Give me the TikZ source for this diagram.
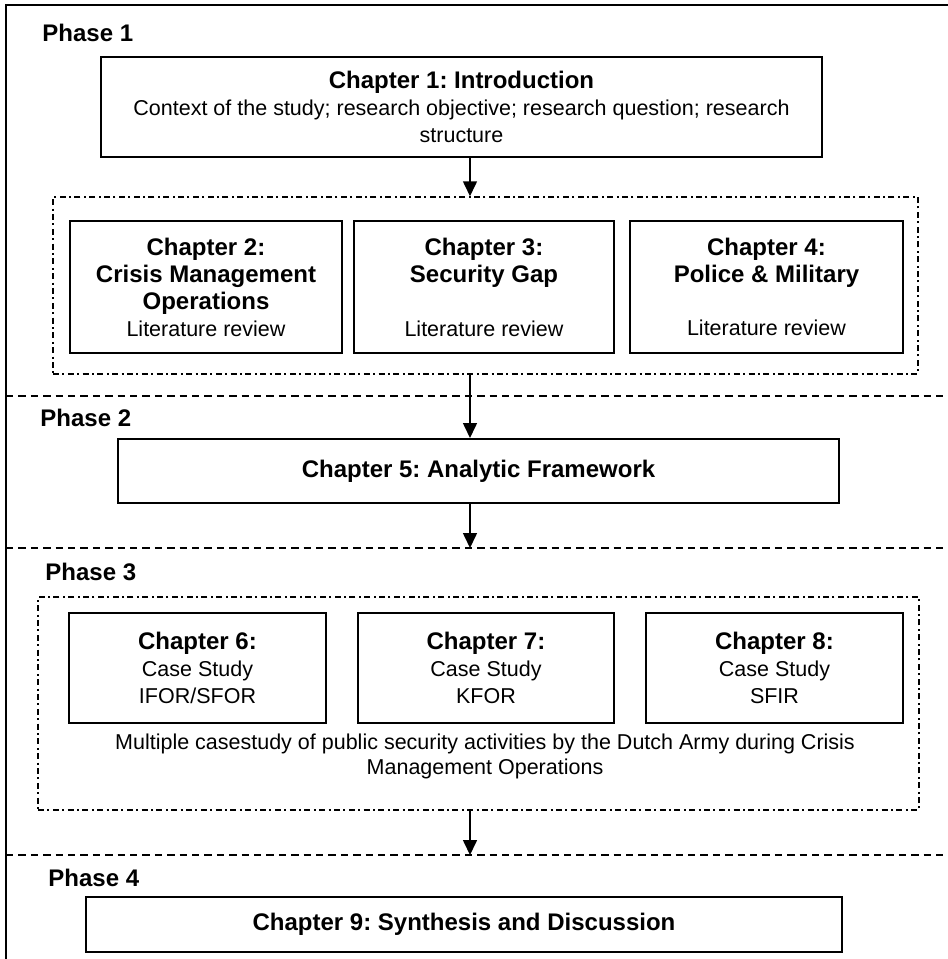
\documentclass[tikz,border=0pt]{standalone}
\usepackage{fontspec}
\setmainfont{Liberation Sans}
\usepackage{tikz}
\usetikzlibrary{arrows.meta}
\frenchspacing
\def\axis{470}
\newcommand{\chtitle}[1]{{\bfseries\fontsize{12}{13.5}\selectfont #1}}

\begin{document}
\begin{tikzpicture}[x=0.5pt,y=-0.5pt,>={Triangle[length=7.5pt,width=7pt]}]
		\tikzstyle{chapter}=[draw,line width=1pt,align=center,inner sep=0pt,font=\fontsize{10.75}{13.5}\selectfont]
		\tikzstyle{group}=[draw,line width=0.75pt,dash pattern=on 3pt off 1.7pt on 1pt off 1.7pt,inner sep=0pt]
		\tikzstyle{phase}=[anchor=west,inner sep=0pt,font=\bfseries\fontsize{12}{14}\selectfont]
		\tikzstyle{separator}=[line width=0.8pt,dash pattern=on 3.7pt off 2.5pt]
		\tikzstyle{flow}=[->,line width=0.8pt]
		\tikzstyle{note}=[align=center,inner sep=0pt,font=\fontsize{10.75}{12.5}\selectfont]
		
		\useasboundingbox (0,0) rectangle (948,959);
		
		% Draw the outer frame
		\draw[line width=1pt] (948,5) -- (6,5) -- (6,959);
		
		% Draw the phase separators
		\foreach \n/\y in {1/396,2/548,3/855}{
			\coordinate (S-\n-l) at (6,\y);
			\coordinate (S-\n-r) at (948,\y);
			\draw[separator] (S-\n-l) -- (S-\n-r);
		}
		
		% Draw the phase labels
		\foreach \n/\x/\y in {1/42/33,2/40/418,3/45/572,4/48/878}
		\node[phase] (P-\n) at (\x,\y) {Phase \n};
		
		% Draw the dash-dotted groups
		\node[group,minimum width=432.5pt,minimum height=88.5pt] (Grp-1) at (485.5,285.5) {};
		\node[group,minimum width=440.5pt,minimum height=106.5pt] (Grp-2) at (478.5,703.5) {};
		
		% Phase 1
		\node[chapter,minimum width=360.5pt,minimum height=50pt] (Ch-1) at (461.5,107)
			{\chtitle{Chapter 1: Introduction}\\Context of the study; research objective; research question; research\\structure};
		\node[chapter,minimum width=136pt,minimum height=66pt] (Ch-2) at (206,287)
			{\chtitle{Chapter 2:}\\\chtitle{Crisis Management}\\\chtitle{Operations}\\Literature review};
		\node[chapter,minimum width=130pt,minimum height=66pt] (Ch-3) at (484,287)
			{\chtitle{Chapter 3:}\\\chtitle{Security Gap}\\[13.5pt]Literature review};
		\node[chapter,minimum width=136.5pt,minimum height=66pt] (Ch-4) at (766.5,287)
			{\chtitle{Chapter 4:}\\\chtitle{Police \& Military}\\[13pt]Literature review};
		
		% Phase 2
		\node[chapter,minimum width=360.5pt,minimum height=32pt] (Ch-5) at (478.5,471)
			{\chtitle{Chapter 5: Analytic Framework}};
		
		% Phase 3
		\node[chapter,minimum width=128.5pt,minimum height=55pt] (Ch-6) at (197.5,668)
			{\chtitle{Chapter 6:}\\Case Study\\IFOR/SFOR};
		\node[chapter,minimum width=128pt,minimum height=55pt] (Ch-7) at (486,668)
			{\chtitle{Chapter 7:}\\Case Study\\KFOR};
		\node[chapter,minimum width=128.5pt,minimum height=55pt] (Ch-8) at (774.5,668)
			{\chtitle{Chapter 8:}\\Case Study\\SFIR};
		\node[note] (Note) at (485,756)
			{Multiple casestudy of public security activities by the Dutch Army during Crisis\\Management Operations};
		
		% Phase 4
		\node[chapter,minimum width=378pt,minimum height=27.5pt] (Ch-9) at (464,924.5)
			{\chtitle{Chapter 9: Synthesis and Discussion}};
		
		% Connect the phases
		\coordinate (axis) at (\axis,0);
		\draw[flow] (Ch-1.south -| axis) -- (Grp-1.north -| axis);
		\draw[flow] (Grp-1.south -| axis) -- (Ch-5.north -| axis);
		\draw[flow] (Ch-5.south -| axis) -- (S-2-l -| axis);
		\draw[flow] (Grp-2.south -| axis) -- (S-3-l -| axis);
	\end{tikzpicture}
\end{document}
